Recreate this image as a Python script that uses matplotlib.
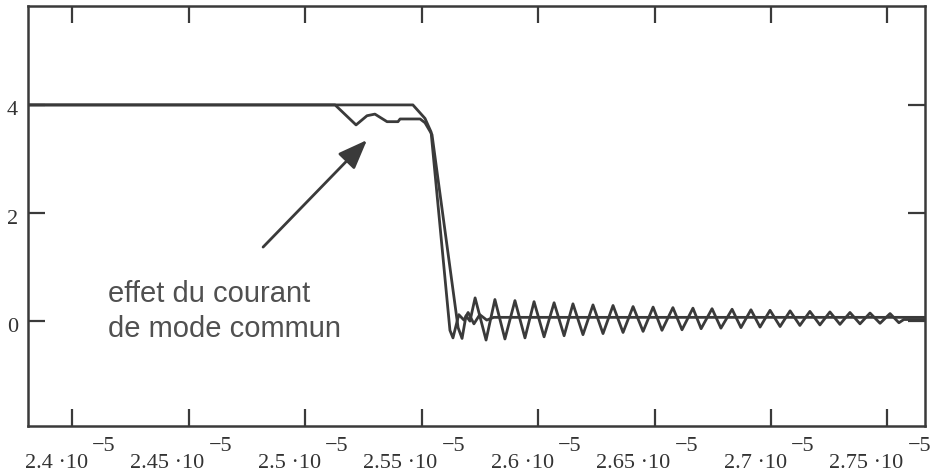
import numpy as np
import matplotlib
matplotlib.use("Agg")
import matplotlib.pyplot as plt
from matplotlib.transforms import blended_transform_factory

# ---- data (time in units of 1e-5 s, voltage) ----
tA = [2.3811, 2.5463, 2.5515, 2.5541, 2.5622, 2.5635, 2.5660, 2.5682, 2.5700,
      2.5725, 2.5750, 2.5780, 2.5810, 2.7661]
vA = [4.0, 4.0, 3.75, 3.50, -0.17, -0.31, 0.12, 0.02, 0.16,
      -0.05, 0.12, 0.02, 0.07, 0.07]

tB = [2.3811, 2.5129, 2.5219, 2.5266, 2.5300, 2.5352, 2.5399, 2.5408, 2.5494,
      2.5515, 2.5545, 2.5657, 2.5674, 2.5691, 2.5708,
      2.5730, 2.5777, 2.5815, 2.5858, 2.5901, 2.5944, 2.5983, 2.6026, 2.6069,
      2.6112, 2.6150, 2.6193, 2.6236, 2.6279, 2.6322, 2.6365, 2.6408, 2.6451,
      2.6494, 2.6532, 2.6579, 2.6618, 2.6665, 2.6700, 2.6747, 2.6785, 2.6833,
      2.6871, 2.6914, 2.6953, 2.6996, 2.7039, 2.7082, 2.7124, 2.7167, 2.7210,
      2.7253, 2.7296, 2.7339, 2.7382, 2.7425, 2.7468, 2.7511, 2.7549, 2.7570,
      2.7661]
vB = [4.0, 4.0, 3.63, 3.80, 3.83, 3.69, 3.69, 3.74, 3.74,
      3.67, 3.45, -0.12, -0.32, 0.10, 0.00,
      0.43, -0.35, 0.40, -0.33, 0.38, -0.31, 0.36, -0.29, 0.34,
      -0.27, 0.32, -0.25, 0.30, -0.23, 0.29, -0.21, 0.27, -0.19,
      0.26, -0.17, 0.25, -0.16, 0.24, -0.14, 0.23, -0.13, 0.22,
      -0.12, 0.21, -0.11, 0.20, -0.10, 0.19, -0.08, 0.18, -0.07,
      0.17, -0.06, 0.16, -0.05, 0.15, -0.04, 0.14, -0.03, 0.03,
      0.03]

xtick_vals = [2.4, 2.45, 2.5, 2.55, 2.6, 2.65, 2.7, 2.75]
xtick_base = ["2.4 ·10", "2.45 ·10", "2.5 ·10", "2.55 ·10",
              "2.6 ·10", "2.65 ·10", "2.7 ·10", "2.75 ·10"]
xtick_exp = "−5"
ytick_vals = [0, 2, 4]
ytick_labels = ["0", "2", "4"]

annot_text = "effet du courant\nde mode commun"
arrow_tip = (2.5266, 3.35)
arrow_tail = (2.4820, 1.37)
text_pos = (2.4155, 0.76)

SCALE = 1e-5
dark = "#3a3a3a"

fig = plt.figure(figsize=(9.32, 4.72), dpi=100)
ax = fig.add_axes([28 / 932, 46 / 472, 897 / 932, 420 / 472])

ax.plot(np.array(tA) * SCALE, vA, color=dark, lw=2.0, solid_joinstyle="round")
ax.plot(np.array(tB) * SCALE, vB, color=dark, lw=2.0, solid_joinstyle="round")

ax.set_xlim(2.3811 * SCALE, 2.7661 * SCALE)
ax.set_ylim(-1.94, 5.83)

for s in ax.spines.values():
    s.set_color(dark)
    s.set_linewidth(1.8)

ax.set_xticks(np.array(xtick_vals) * SCALE)
ax.set_yticks(ytick_vals)
ax.set_xticklabels([])
ax.set_yticklabels([])
ax.tick_params(axis="both", direction="in", length=12, width=1.6, color=dark,
               top=True, right=True)

serif = ["Liberation Serif", "DejaVu Serif"]
tr_x = blended_transform_factory(ax.transData, ax.transAxes)
for v, base in zip(xtick_vals, xtick_base):
    ax.annotate(base, xy=(v * SCALE, 0), xycoords=tr_x,
                xytext=(16, -42), textcoords="offset pixels",
                ha="right", va="baseline", fontsize=16, family=serif,
                color="#333333", annotation_clip=False)
    ax.annotate(xtick_exp, xy=(v * SCALE, 0), xycoords=tr_x,
                xytext=(20, -25), textcoords="offset pixels",
                ha="left", va="baseline", fontsize=16, family=serif,
                color="#333333", annotation_clip=False)

tr_y = blended_transform_factory(ax.transAxes, ax.transData)
for v, lab in zip(ytick_vals, ytick_labels):
    ax.annotate(lab, xy=(0, v), xycoords=tr_y,
                xytext=(-10, -6), textcoords="offset pixels",
                ha="right", va="center", fontsize=16, family=serif,
                color="#333333", annotation_clip=False)

ax.annotate("", xy=(arrow_tip[0] * SCALE, arrow_tip[1]),
            xytext=(arrow_tail[0] * SCALE, arrow_tail[1]),
            arrowprops=dict(arrowstyle="-|>,head_length=0.9,head_width=0.35",
                            mutation_scale=20, lw=2, color=dark,
                            shrinkA=0, shrinkB=0))

ax.text(text_pos[0] * SCALE, text_pos[1], annot_text, ha="left", va="top",
        fontsize=21, family=["Liberation Sans", "DejaVu Sans"],
        color="#505050", linespacing=1.32)

fig.savefig("out.png", dpi=100)
